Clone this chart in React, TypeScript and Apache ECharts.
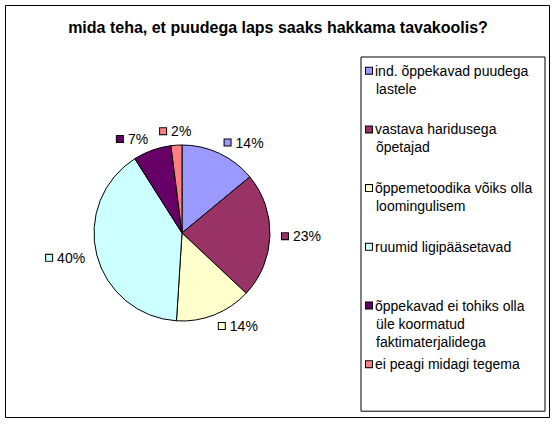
import { useEffect, useRef } from "react";
import * as echarts from "echarts";

const title = "mida teha, et puudega laps saaks hakkama tavakoolis?";

// legend names, wrapped where the original legend wraps them
const categories = [
  "ind. õppekavad puudega\nlastele",
  "vastava haridusega\nõpetajad",
  "õppemetoodika võiks olla\nloomingulisem",
  "ruumid ligipääsetavad",
  "õppekavad ei tohiks olla\nüle koormatud\nfaktimaterjalidega",
  "ei peagi midagi tegema"
];

const shares = [14, 23, 14, 40, 7, 2];

const colors = ["#9999ff", "#993366", "#ffffcc", "#ccffff", "#660066", "#ff8080"];

const font = "Liberation Sans";

const keyStyles: Record<string, object> = {};
colors.forEach((c, i) => {
  keyStyles["k" + i] = {
    width: 6,
    height: 6,
    backgroundColor: c,
    borderColor: "#000",
    borderWidth: 1
  };
});

export default function App() {
  const ref = useRef<HTMLDivElement | null>(null);

  useEffect(() => {
    if (!ref.current) {
      return;
    }

    const chart = echarts.init(ref.current, null, { renderer: "svg" });

    chart.setOption({
      animation: false,
      backgroundColor: "#fff",
      color: colors,
      title: {
        text: title,
        left: "center",
        top: 19,
        padding: 0,
        textStyle: {
          color: "#000",
          fontFamily: font,
          fontSize: 16,
          fontWeight: "bold"
        }
      },
      graphic: [
        {
          type: "rect",
          shape: { x: 5.5, y: 5.5, width: 544, height: 412 },
          style: { fill: "none", stroke: "#000", lineWidth: 1 },
          silent: true
        }
      ],
      legend: {
        orient: "vertical",
        left: 361,
        top: 57,
        padding: [4.7, 9, 2, 0],
        itemGap: 4.7,
        itemWidth: 0,
        itemHeight: 7,
        itemStyle: { opacity: 0, borderWidth: 0 },
        borderColor: "#000",
        borderWidth: 1,
        selectedMode: false,
        data: categories,
        formatter: (name: string) => {
          const i = categories.indexOf(name);
          return name
            .split("\n")
            .map((line, k) => (k === 0 ? `{k${i}|}{g|}` : "{g2|}") + `{t|${line}}`)
            .join("\n");
        },
        textStyle: {
          width: 170,
          height: 54,
          lineHeight: 18,
          rich: {
            ...keyStyles,
            g: { width: 3 },
            g2: { width: 10 },
            t: { color: "#000", fontFamily: font, fontSize: 14, lineHeight: 18 }
          }
        }
      },
      series: [
        {
          type: "pie",
          center: [182, 233],
          radius: 88,
          startAngle: 90,
          clockwise: true,
          avoidLabelOverlap: false,
          data: shares.map((v, i) => ({ name: categories[i], value: v })),
          itemStyle: {
            borderColor: "#000",
            borderWidth: 1
          },
          label: {
            show: true,
            position: "outside",
            distanceToLabelLine: 0,
            formatter: (p: { dataIndex: number; percent: number }) =>
              `{k${p.dataIndex}|}{g|}{v|${Math.round(p.percent)}%}`,
            rich: {
              ...keyStyles,
              g: { width: 5 },
              v: { color: "#000", fontFamily: font, fontSize: 14 }
            }
          },
          // the thin last slice sits at the top: centre its label over it
          labelLayout: (p: { dataIndex: number }) =>
            p.dataIndex === shares.length - 1
              ? { align: "center", dy: -2, hideOverlap: false }
              : { hideOverlap: false },
          labelLine: {
            show: false,
            length: 12,
            length2: 0
          },
          emphasis: { disabled: true }
        }
      ]
    });

    return () => {
      chart.dispose();
    };
  }, []);

  return (
    <div
      ref={ref}
      style={{ position: "fixed", left: 0, top: 0, width: 556, height: 424 }}
    />
  );
}
